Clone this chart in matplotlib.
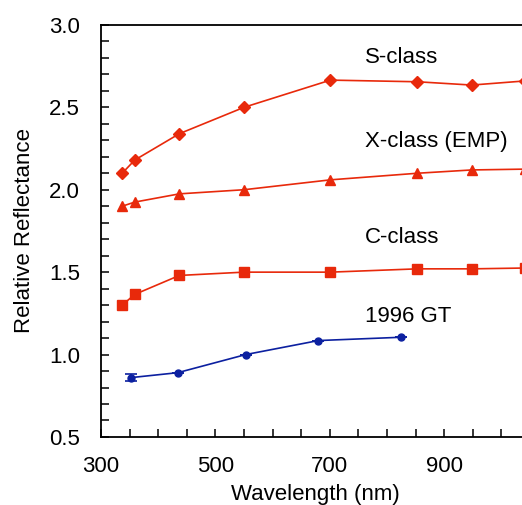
import numpy as np
import matplotlib
matplotlib.use('Agg')
import matplotlib.pyplot as plt

# ECAS filter centres (nm) and mean class reflectances
ecas_wl = [337, 359, 437, 550, 701, 853, 948, 1041]
s_class = [2.10, 2.18, 2.34, 2.50, 2.665, 2.655, 2.635, 2.66]
x_class = [1.90, 1.925, 1.975, 2.00, 2.06, 2.10, 2.12, 2.125]
c_class = [1.30, 1.365, 1.48, 1.50, 1.50, 1.52, 1.52, 1.525]

# 1996 GT photometry
gt_wl = [352, 434, 553, 680, 825]
gt_refl = [0.86, 0.89, 1.00, 1.085, 1.105]
gt_err = [0.02, 0.0, 0.0, 0.0, 0.0]

red = '#e8290b'
blue = '#0c20a0'

plt.rcParams['font.family'] = ['Liberation Sans', 'DejaVu Sans']

fig = plt.figure(figsize=(5.22, 5.05), dpi=100)
ax = fig.add_axes([0.1935, 0.1347, 0.822, 0.816])

ax.plot(ecas_wl, s_class, '-D', color=red, ms=6, lw=1.2)
ax.plot(ecas_wl, x_class, '-^', color=red, ms=7.5, lw=1.2)
ax.plot(ecas_wl, c_class, '-s', color=red, ms=6.5, lw=1.2)
ax.errorbar(gt_wl, gt_refl, yerr=gt_err, fmt='-o', color=blue, ms=5,
            lw=1.2, capsize=4, elinewidth=1.2, capthick=1.2)

ax.text(761, 2.80, 'S-class', fontsize=16, va='center')
ax.text(761, 2.295, 'X-class (EMP)', fontsize=16, va='center')
ax.text(761, 1.71, 'C-class', fontsize=16, va='center')
ax.text(761, 1.228, '1996 GT', fontsize=16, va='center')

ax.set_xlim(300, 1050)
ax.set_ylim(0.5, 3.0)
ax.set_xticks([300, 500, 700, 900])
ax.set_xticks(np.arange(350, 1050, 50), minor=True)
ax.set_yticks([0.5, 1.0, 1.5, 2.0, 2.5, 3.0])
ax.set_yticks(np.arange(0.6, 3.0, 0.1), minor=True)
ax.set_yticklabels(['0.5', '1.0', '1.5', '2.0', '2.5', '3.0'])

ax.tick_params(which='both', direction='in', length=6, width=1.1,
               labelsize=16, right=False, top=False)
ax.tick_params(axis='y', which='both', pad=15)
ax.tick_params(axis='x', which='both', pad=14)
for sp in ax.spines.values():
    sp.set_linewidth(1.3)

ax.set_xlabel('Wavelength (nm)', fontsize=16, labelpad=5)
ax.set_ylabel('Relative Reflectance', fontsize=16, labelpad=10)

fig.savefig('out.png', dpi=100)
